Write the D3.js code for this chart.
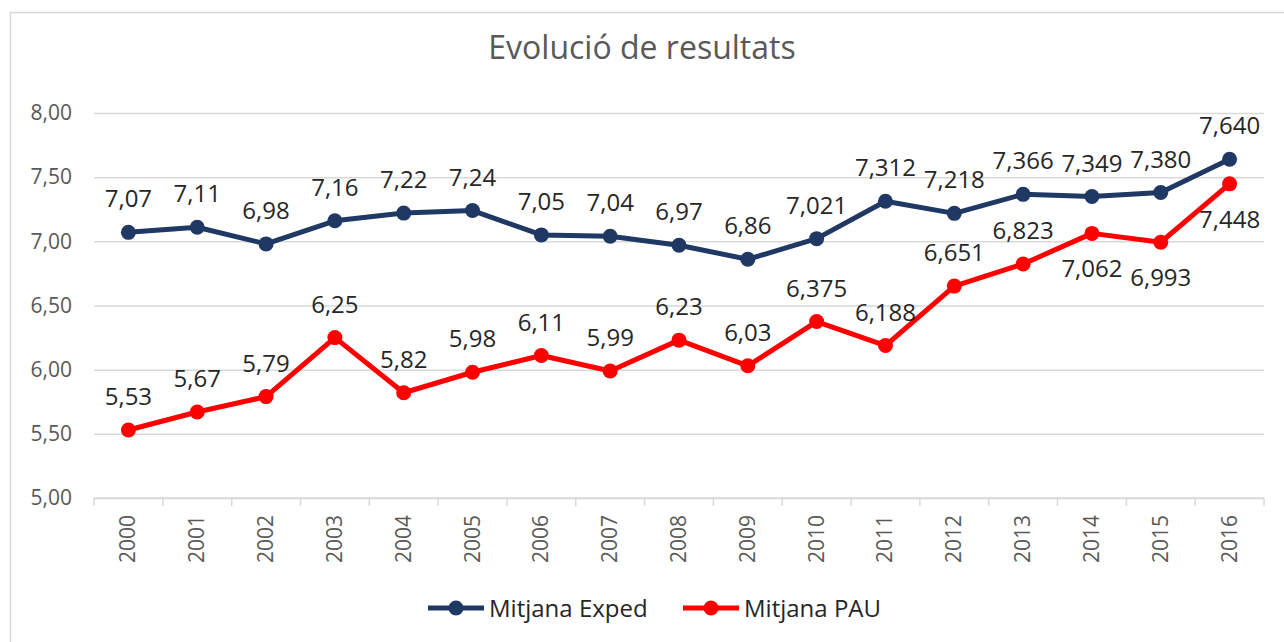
<!DOCTYPE html>
<html>
<head>
<meta charset="utf-8">
<script src="https://cdn.jsdelivr.net/npm/d3@7"></script>
<style>
  html, body { margin: 0; padding: 0; background: #fff; }
  svg { display: block; font-family: "Open Sans", "Noto Sans", sans-serif; }
</style>
</head>
<body>
<div id="chart"></div>
<script>
// Data
const years = ["2000","2001","2002","2003","2004","2005","2006","2007","2008",
               "2009","2010","2011","2012","2013","2014","2015","2016"];
const exped = [7.07, 7.11, 6.98, 7.16, 7.22, 7.24, 7.05, 7.04, 6.97,
               6.86, 7.021, 7.312, 7.218, 7.366, 7.349, 7.380, 7.640];
const pau   = [5.53, 5.67, 5.79, 6.25, 5.82, 5.98, 6.11, 5.99, 6.23,
               6.03, 6.375, 6.188, 6.651, 6.823, 7.062, 6.993, 7.448];
// where the PAU label sits relative to its point
const pauLabelPos = ["above","above","above","above","above","above","above","above","above",
                     "above","above","above","above","above","below","below","below"];
const yTicks = [5.0, 5.5, 6.0, 6.5, 7.0, 7.5, 8.0];

const series = [
  { name: "Mitjana Exped", values: exped, color: "#1f3864", pos: years.map(() => "above") },
  { name: "Mitjana PAU",   values: pau,   color: "#ff0000", pos: pauLabelPos }
];

const width = 1284, height = 642;
const margin = { top: 113, right: 20, bottom: 144, left: 94 };

const svg = d3.select("#chart").append("svg")
  .attr("width", width)
  .attr("height", height);

// Chart frame
svg.append("rect")
  .attr("x", 10.5).attr("y", 12.5)
  .attr("width", width + 20).attr("height", height + 20)
  .attr("fill", "none")
  .attr("stroke", "#d9d9d9")
  .attr("stroke-width", 1.5);

// Scales
const x = d3.scaleBand()
  .domain(years)
  .range([margin.left, width - margin.right]);

const y = d3.scaleLinear()
  .domain([5, 8])
  .range([height - margin.bottom, margin.top]);

const fmtComma = (v, d) => v.toFixed(d).replace(".", ",");

// Title
svg.append("text")
  .attr("x", 642)
  .attr("y", 59)
  .attr("text-anchor", "middle")
  .attr("font-size", 32)
  .attr("fill", "#595959")
  .text("Evolució de resultats");

// Horizontal gridlines + y labels
const yAxis = d3.axisLeft(y)
  .tickValues(yTicks)
  .tickSize(-(width - margin.left - margin.right))
  .tickPadding(22)
  .tickFormat(d => fmtComma(d, 2));

svg.append("g")
  .attr("transform", `translate(${margin.left},0)`)
  .call(yAxis)
  .call(g => g.select(".domain").remove())
  .call(g => g.selectAll(".tick line").attr("stroke", "#d9d9d9").attr("stroke-width", 1.5))
  .call(g => g.selectAll(".tick text")
    .attr("font-size", 21)
    .attr("fill", "#595959")
    .attr("font-family", "Open Sans"));

// Category axis at the bottom: boundary ticks, rotated year labels
const xAxisG = svg.append("g")
  .attr("transform", `translate(0,${y(5)})`);

xAxisG.append("line")
  .attr("x1", x.range()[0]).attr("x2", x.range()[1])
  .attr("stroke", "#d9d9d9").attr("stroke-width", 1.5);

const bounds = years.map(d => x(d)).concat([x.range()[1]]);
xAxisG.selectAll(".bound")
  .data(bounds)
  .join("line")
    .attr("class", "bound")
    .attr("x1", d => d).attr("x2", d => d)
    .attr("y1", 0).attr("y2", 8)
    .attr("stroke", "#d9d9d9").attr("stroke-width", 1.5);

xAxisG.selectAll(".year")
  .data(years)
  .join("text")
    .attr("class", "year")
    .attr("transform", d => `translate(${x(d) + x.bandwidth() / 2 + 7},17) rotate(-90)`)
    .attr("text-anchor", "end")
    .attr("font-size", 21)
    .attr("fill", "#595959")
    .text(d => d);

// Lines, markers, labels
const line = d3.line()
  .x((d, i) => x(years[i]) + x.bandwidth() / 2)
  .y(d => y(d));

series.forEach(s => {
  const g = svg.append("g");

  g.append("path")
    .datum(s.values)
    .attr("fill", "none")
    .attr("stroke", s.color)
    .attr("stroke-width", 5)
    .attr("stroke-linejoin", "round")
    .attr("d", line);

  g.selectAll("circle")
    .data(s.values)
    .join("circle")
      .attr("cx", (d, i) => x(years[i]) + x.bandwidth() / 2)
      .attr("cy", d => y(d))
      .attr("r", 7.5)
      .attr("fill", s.color);

  g.selectAll("text")
    .data(s.values)
    .join("text")
      .attr("x", (d, i) => x(years[i]) + x.bandwidth() / 2)
      .attr("y", (d, i) => s.pos[i] === "below" ? y(d) + 44 : y(d) - 25)
      .attr("text-anchor", "middle")
      .attr("font-size", 24)
      .attr("fill", "#262626")
      .text((d, i) => fmtComma(d, +years[i] >= 2010 ? 3 : 2));
});

// Legend
const legend = svg.append("g")
  .attr("transform", `translate(428,608)`);

const legendItems = legend.selectAll("g")
  .data(series)
  .join("g")
    .attr("transform", (d, i) => `translate(${i * 255},0)`);

legendItems.append("line")
  .attr("x1", 0).attr("x2", 56)
  .attr("stroke", d => d.color)
  .attr("stroke-width", 5);

legendItems.append("circle")
  .attr("cx", 28).attr("r", 7.5)
  .attr("fill", d => d.color);

legendItems.append("text")
  .attr("x", 61).attr("y", 8.5)
  .attr("font-size", 24)
  .attr("fill", "#262626")
  .text(d => d.name);
</script>
</body>
</html>
